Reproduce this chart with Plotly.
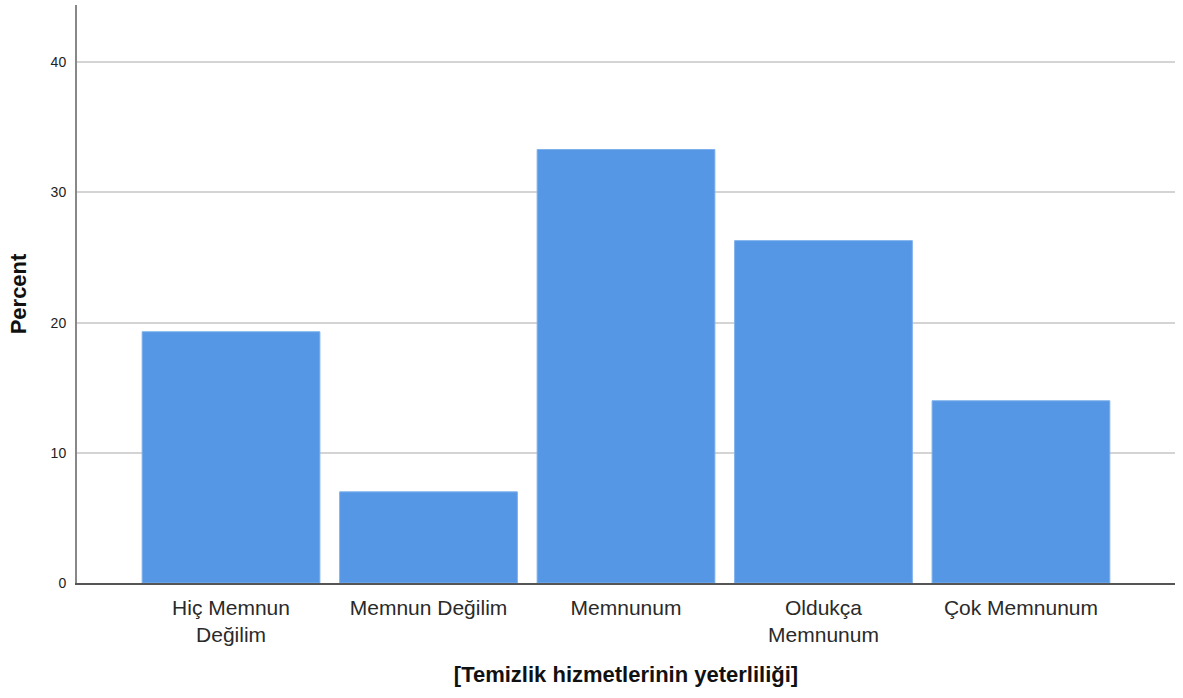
import plotly.graph_objects as go

categories = ["Hiç Memnun<br>Değilim", "Memnun Değilim", "Memnunum", "Oldukça<br>Memnunum", "Çok Memnunum"]
percent = [19.3, 7.0, 33.3, 26.3, 14.0]
y_ticks = [0, 10, 20, 30, 40]

fig = go.Figure(go.Bar(
    x=categories, y=percent,
    marker=dict(color="#5596E5", line=dict(color="#7DB0EC", width=1)),
    width=0.9,
))

fig.update_layout(
    width=1183, height=698,
    margin=dict(l=77, r=8, t=5, b=115),
    paper_bgcolor="white", plot_bgcolor="white",
    font=dict(family="Liberation Sans, Arial", color="#222222"),
    showlegend=False,
)
fig.update_xaxes(
    range=[-0.78, 4.78],
    showline=True, linecolor="#555555", linewidth=1.5,
    ticks="", tickfont=dict(size=21, color="#2a2a2a"),
    ticklabelstandoff=5,
    title=dict(text="<b>[Temizlik hizmetlerinin yeterliliği]</b>", font=dict(size=22, color="#111111"), standoff=21),
    automargin=False,
)
fig.update_yaxes(
    range=[0, 44.4],
    tickvals=y_ticks,
    showline=True, linecolor="#888888", linewidth=2,
    showgrid=True, gridcolor="#d4d4d4", gridwidth=2,
    zeroline=False,
    ticks="", tickfont=dict(size=14, color="#222222"),
    ticklabelstandoff=6,
    title=dict(text="<b>Percent</b>", font=dict(size=22, color="#111111"), standoff=18),
    automargin=False,
)

fig.write_html("out.html", config={"displayModeBar": False},
               post_script="document.body.style.margin='0';")
